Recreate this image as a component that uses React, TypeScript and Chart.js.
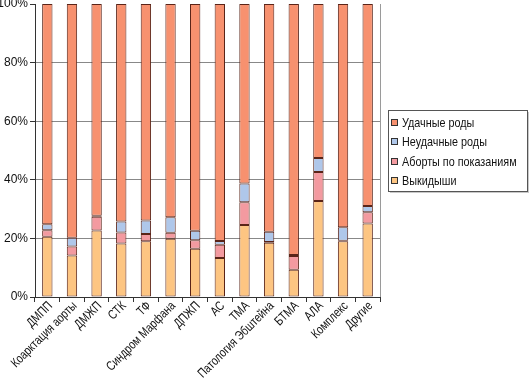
import React, { useEffect, useRef } from 'react';
import { Chart, registerables } from 'chart.js';

Chart.register(...registerables);

const categories = [
  'ДМПП', 'Коарктация аорты', 'ДМЖП', 'СТК', 'ТФ', 'Синдром Марфана', 'ДПЖП',
  'АС', 'ТМА', 'Патология Эбштейна', 'БТМА', 'АЛА', 'Комплекс', 'Другие',
];

// percentages, bottom to top
const miscarriages = [20.6, 14.2, 22.7, 18.3, 19.0, 19.9, 16.5, 13.3, 24.6, 18.5, 9.3, 32.8, 19.0, 25.1];
const abortions = [2.2, 3.0, 4.7, 3.7, 2.5, 2.0, 2.9, 4.5, 7.7, 0.3, 4.7, 9.9, 0.2, 3.8];
const failedBirths = [2.0, 3.0, 0.3, 3.8, 4.6, 5.3, 3.2, 1.3, 6.4, 3.5, 0.3, 4.7, 4.6, 2.2];
const successfulBirths = [75.2, 79.8, 72.3, 74.2, 73.9, 72.8, 77.4, 80.9, 61.3, 77.7, 85.7, 52.6, 76.2, 68.9];

const yTickValues = [0, 20, 40, 60, 80, 100];

const seriesNames = ['Выкидыши', 'Аборты по показаниям', 'Неудачные роды', 'Удачные роды'];
const seriesColors = ['#FDC582', '#F39AA0', '#AFC7EA', '#F7916F'];

const FONT = '"Liberation Sans", Arial, sans-serif';

export default function App() {
  const ref = useRef<HTMLCanvasElement>(null);

  useEffect(() => {
    document.body.style.margin = '0';
    const canvas = ref.current;
    if (!canvas) return;

    const condensedLabels = {
      id: 'condensedLabels',
      afterDraw(chart: any) {
        const ctx = chart.ctx as CanvasRenderingContext2D;
        const a = chart.chartArea;
        const xs = chart.scales.x;
        ctx.save();
        // right frame line of plot
        ctx.strokeStyle = '#9a9a9a';
        ctx.lineWidth = 1;
        ctx.beginPath();
        ctx.moveTo(Math.round(a.right) + 0.5, a.top);
        ctx.lineTo(Math.round(a.right) + 0.5, a.bottom);
        ctx.stroke();

        // rotated, condensed category labels
        ctx.fillStyle = '#111';
        ctx.font = '13px ' + FONT;
        ctx.textAlign = 'right';
        ctx.textBaseline = 'middle';
        chart.data.labels.forEach((lab: string, i: number) => {
          const x = xs.getPixelForTick(i);
          ctx.save();
          ctx.translate(x + 3, a.bottom + 7);
          ctx.rotate(-Math.PI / 4);
          ctx.scale(0.79, 1);
          ctx.fillText(lab, 0, 0);
          ctx.restore();
        });

        // legend box
        const x0 = 388, y0 = 110, w = 139, h = 81;
        ctx.fillStyle = '#c8c8c8';
        ctx.fillRect(x0 + 2, y0 + 2, w, h);
        ctx.fillStyle = '#ffffff';
        ctx.fillRect(x0, y0, w, h);
        ctx.strokeStyle = '#555';
        ctx.strokeRect(x0 + 0.5, y0 + 0.5, w, h);
        const items = chart.data.datasets.slice().reverse();
        ctx.font = '13px ' + FONT;
        ctx.textAlign = 'left';
        ctx.textBaseline = 'middle';
        items.forEach((ds: any, i: number) => {
          const y = Math.round(y0 + 12.5 + i * 19.5);
          ctx.fillStyle = ds.backgroundColor;
          ctx.fillRect(x0 + 3, y - 4, 7, 7);
          ctx.strokeStyle = '#333';
          ctx.strokeRect(x0 + 3.5, y - 3.5, 6, 6);
          ctx.fillStyle = '#111';
          ctx.save();
          ctx.translate(x0 + 14, y + 0.5);
          ctx.scale(0.83, 1);
          ctx.fillText(ds.label, 0, 0);
          ctx.restore();
        });
        ctx.restore();
      },
    };

    const chart = new Chart(canvas, {
      type: 'bar',
      data: {
        labels: categories,
        datasets: [miscarriages, abortions, failedBirths, successfulBirths].map((d, i) => ({
          label: seriesNames[i],
          data: d,
          backgroundColor: seriesColors[i],
          borderColor: '#5a2418',
          borderWidth: 1,
          borderSkipped: false,
          barPercentage: 0.42,
          categoryPercentage: 1,
        })),
      },
      options: {
        responsive: false,
        animation: false,
        devicePixelRatio: 1,
        layout: { padding: { top: 4, right: 150, left: 0, bottom: 0 } },
        plugins: { legend: { display: false }, tooltip: { enabled: false } },
        scales: {
          x: {
            stacked: true,
            offset: true,
            grid: {
              display: true,
              drawOnChartArea: false,
              drawTicks: true,
              tickLength: 5,
              offset: true,
              color: '#333',
            },
            border: { color: '#333' },
            ticks: { display: false, autoSkip: false },
            afterFit: (s: any) => { s.height = 84; s.paddingLeft = 0; s.paddingRight = 0; },
          },
          y: {
            stacked: true,
            min: 0,
            max: 100,
            afterBuildTicks: (s: any) => { s.ticks = yTickValues.map((v) => ({ value: v })); },
            ticks: {
              callback: (v: any) => v + '%',
              padding: 2,
              color: '#111',
              font: { family: FONT, size: 12 },
            },
            grid: {
              color: (c: any) => (c.tick && (c.tick.value === 0 || c.tick.value === 100)) ? 'rgba(0,0,0,0)' : '#888',
              tickColor: '#333',
              tickLength: 5,
            },
            border: { color: '#333' },
            afterFit: (s: any) => { s.width = 35; s.paddingTop = 0; s.paddingBottom = 0; },
          },
        },
      },
      plugins: [condensedLabels],
    } as any);

    return () => chart.destroy();
  }, []);

  return <canvas ref={ref} width={530} height={381} style={{ display: 'block', background: '#fff' }} />;
}
